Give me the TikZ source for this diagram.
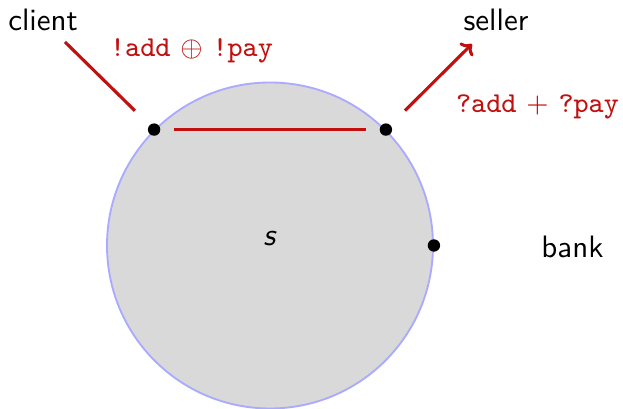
\documentclass[tikz,border=0pt]{standalone}
\usetikzlibrary{arrows.meta}
\definecolor{lbl}{RGB}{192,16,16}
\definecolor{ring}{RGB}{170,170,255}
\begin{document}
\begin{tikzpicture}[x=0.323pt,y=-0.323pt,
  every node/.style={font=\sffamily},
  txt/.style={anchor=base, inner sep=0pt},
  lab/.style={anchor=base, inner sep=0pt, text=lbl, font=\fontsize{9.3}{11}\selectfont},
  dot/.style={circle, fill=black, inner sep=0pt, minimum size=4pt},
  conn/.style={draw=lbl, line width=1pt}]
\useasboundingbox (0,0) rectangle (623,409);
\node[circle, draw=ring, fill=gray!30, line width=0.6pt, minimum size=326*0.323pt, inner sep=0pt] (s) at (270,245.5) {};
\node[txt] (slab) at (270,246) {\textit{s}};
\node[dot] (dc) at (s.135) {};
\node[dot] (ds) at (s.45) {};
\node[dot] (db) at (s.0) {};
\node[txt] (client) at (43,31) {client};
\node[txt] (seller) at (496,31) {seller};
\node[txt] (bank) at (572.5,258) {bank};
\node[lab] (l1) at (191.5,57) {\texttt{!add} $\oplus$ \texttt{!pay}};
\node[lab] (l2) at (537.5,113) {\texttt{?add} $+$ \texttt{?pay}};
\coordinate (ce) at (65,42);
\coordinate (se) at (472,44);
\draw[conn, shorten <=4.2pt, shorten >=4.2pt] (dc) -- (ds);
\draw[conn, shorten >=6.5pt] (ce) -- (dc);
\draw[conn, -{To[length=3pt,width=6pt]}, shorten <=6.5pt] (ds) -- (se);
\end{tikzpicture}
\end{document}
